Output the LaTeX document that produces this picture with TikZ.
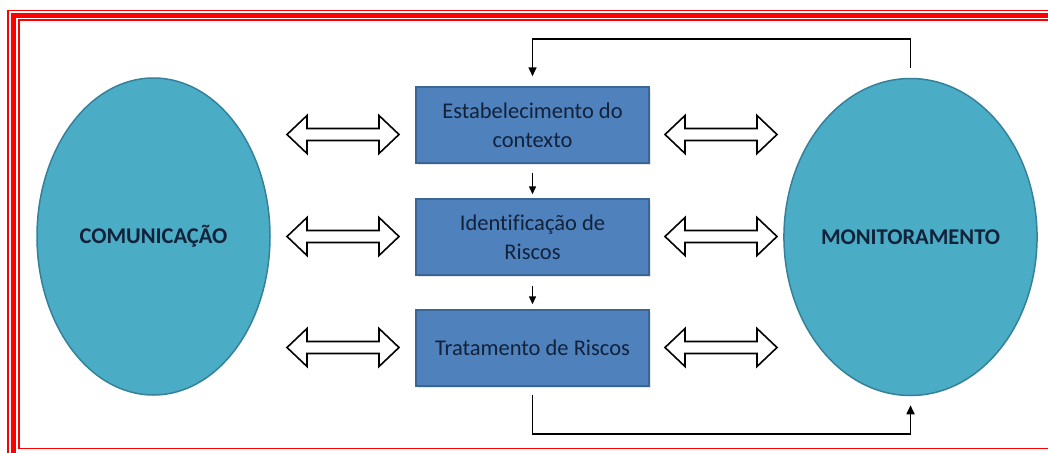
\documentclass[tikz,border=0pt]{standalone}
\usepackage{fontspec}
\setmainfont{Carlito}[Ligatures=NoCommon]
\usetikzlibrary{shapes.geometric,arrows.meta,calc,shadows}
\definecolor{boxfill}{HTML}{4F81BD}
\definecolor{boxline}{HTML}{3A6596}
\definecolor{ellfill}{HTML}{4BACC6}
\definecolor{ellline}{HTML}{35819A}
\definecolor{txt}{HTML}{12223A}
\newcommand\dblarr[2]{\draw[hollow] (#1,#2) -- ++(20,-19) -- ++(0,13) -- ++(72,0) -- ++(0,-13) -- ++(20,19) -- ++(-20,19) -- ++(0,-13) -- ++(-72,0) -- ++(0,13) -- cycle;}
\begin{document}
\begin{tikzpicture}[x=1pt,y=-1pt,
 stepbox/.style={draw=boxline,line width=1.5pt,fill=boxfill,minimum width=233pt,minimum height=76pt,inner sep=0pt,align=center,text=txt,font=\fontsize{22.5}{29}\selectfont,
   drop shadow={opacity=0.2,shadow xshift=2pt,shadow yshift=-2pt}},
 oval/.style={ellipse,draw=ellline,line width=1.5pt,fill=ellfill,minimum width=233pt,minimum height=317pt,inner sep=0pt,text=txt,font=\fontsize{22.5}{29}\selectfont\bfseries},
 flow/.style={line width=1.5pt,-{Triangle[length=8pt,width=7pt]}},
 fb/.style={line width=1.6pt,-{Triangle[length=9pt,width=8pt]}},
 hollow/.style={draw=black,line width=1.6pt,fill=white,line join=miter}]
\useasboundingbox (0,0) rectangle (1048,452);
\clip (0,0) rectangle (1048,452);
\fill[white] (0,0) rectangle (1048,452);
\draw[red,line width=1.6pt] (8.2,10.5) rectangle (1075,475);
\draw[red,line width=4.5pt] (13.5,15.3) rectangle (1068,462);
\draw[red,line width=1.7pt] (19.2,19.8) rectangle (1060,448.5);
\node[oval] (com) at (153.5,236.5) {COMUNICAÇÃO};
\node[oval] (mon) at (910.5,237) {MONITORAMENTO};
\node[stepbox] (b1) at (532.5,125) {Estabelecimento do\\contexto};
\node[stepbox] (b2) at (532.5,237) {Identificação de\\Riscos};
\node[stepbox] (b3) at (532.5,348) {Tratamento de Riscos};
\dblarr{287}{134.5}
\dblarr{287}{236.5}
\dblarr{287}{347.5}
\dblarr{665}{134.5}
\dblarr{665}{236.5}
\dblarr{665}{347.5}
\draw[flow,shorten <=9pt,shorten >=4pt] (b1) -- (b2);
\draw[flow,shorten <=10pt,shorten >=5pt] (b2) -- (b3);
\draw[fb] ([yshift=10pt]mon.north) -- ([yshift=39pt]mon.north) -| ([yshift=10pt]b1.north);
\draw[fb] ([yshift=-8pt]b3.south) -- ([yshift=-47pt]b3.south) -| ([yshift=-9pt]mon.south);
\end{tikzpicture}
\end{document}
